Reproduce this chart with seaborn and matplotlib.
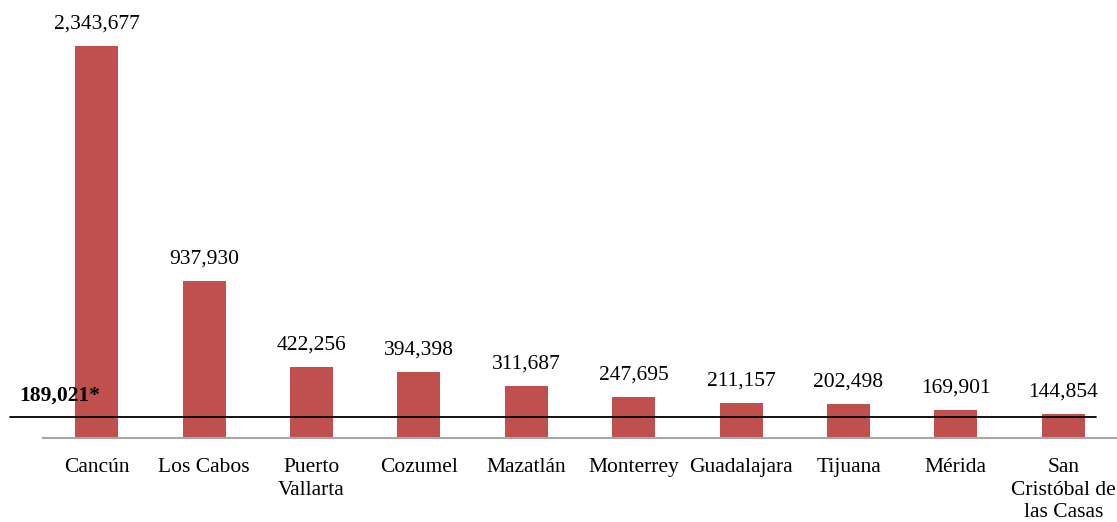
import matplotlib
matplotlib.use("Agg")
import matplotlib.pyplot as plt
import seaborn as sns
import pandas as pd

cities = ["Cancún", "Los Cabos", "Puerto\nVallarta", "Cozumel", "Mazatlán",
          "Monterrey", "Guadalajara", "Tijuana", "Mérida",
          "San\nCristóbal de\nlas Casas"]
visitors = [2343677, 937930, 422256, 394398, 311687, 247695, 211157, 202498, 169901, 144854]
reference_label = "189,021*"
reference_line_level = 125500  # level at which the reference line is drawn in the picture

sns.set_theme(style="white")
plt.rcParams["font.family"] = ["Liberation Serif", "DejaVu Serif"]

df = pd.DataFrame({"city": cities, "visitors": visitors})

fig = plt.figure(figsize=(11.17, 5.22), dpi=100)
ax = fig.add_axes([0.0385, 0.161, 0.9615, 0.8006])

sns.barplot(data=df, x="city", y="visitors", color="#C0504D", saturation=1,
            width=0.4, linewidth=0, ax=ax)

ax.set_xlim(-0.5, len(cities) - 0.5)
ax.set_ylim(0, 2500000)

for i, v in enumerate(visitors):
    ax.annotate(f"{v:,}", (i, v), xytext=(0, 9), textcoords="offset points",
                ha="center", va="bottom", fontsize=15.5, color="black",
                annotation_clip=False)

# reference line spanning beyond axes on left
ax.plot([-0.81, 9.30], [reference_line_level] * 2, color="black", lw=1.3,
        clip_on=False, zorder=5)
ax.annotate(reference_label, (-0.72, reference_line_level), xytext=(0, 8),
            textcoords="offset points", ha="left", va="bottom",
            fontsize=15.5, fontweight="bold", color="black", annotation_clip=False)

for s in ["top", "right", "left"]:
    ax.spines[s].set_visible(False)
ax.spines["bottom"].set_color("#a6a6a6")
ax.spines["bottom"].set_linewidth(1.5)

ax.set_yticks([])
ax.set_xlabel("")
ax.set_ylabel("")
ax.tick_params(axis="x", length=0, pad=14.5, labelsize=15.5, colors="black")
for lbl in ax.get_xticklabels():
    lbl.set_linespacing(1.25)
    lbl.set_va("top")

fig.savefig("out.png", dpi=100)
